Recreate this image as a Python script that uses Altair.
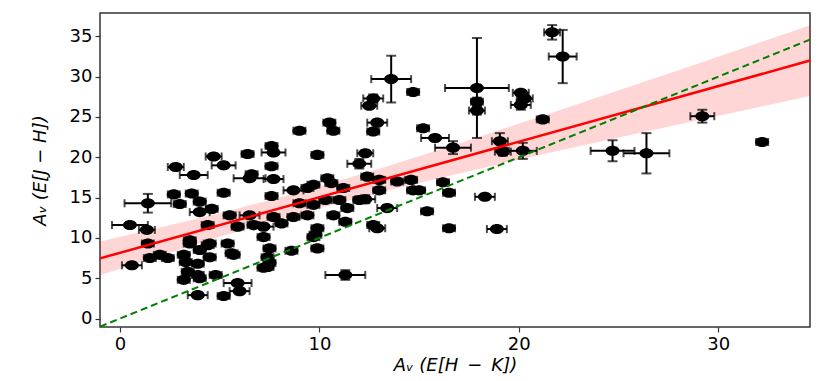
import altair as alt
import pandas as pd

# ---- data ----
px = [21.67, 22.2, 17.9, 17.9, 17.9, 13.6, 14.7, 12.7, 12.5, 12.9, 12.7, 10.5, 10.7, 9.0, 15.2, 15.8, 16.7,
      19.05, 19.2, 20.2, 20.1, 20.3, 20.1, 21.2, 24.7, 26.4, 29.2, 32.2,
      16.2, 16.5, 18.3, 15.4, 16.5, 18.9, 15.0, 14.6, 13.9, 13.0, 12.4, 13.0, 14.7, 13.4, 12.3, 12.9, 12.7,
      11.3, 12.3, 12.0, 11.0, 10.3, 12.0, 11.4, 9.7, 9.4, 10.7, 11.3, 9.9, 9.8, 8.7, 8.1, 7.2, 7.2, 7.5,
      8.6, 9.9, 7.2, 10.4, 10.6, 9.7, 9.4, 11.2, 8.7, 7.6, 9.9,
      7.6, 7.7, 6.4, 4.7, 5.2, 7.6, 2.8, 3.7, 6.6, 6.5, 7.7, 5.2, 3.6, 2.7, 1.4, 3.0, 4.0, 4.0, 4.6, 5.5,
      6.5, 0.5, 1.35, 4.4, 5.9, 6.7, 7.7, 9.0,
      1.4, 0.6, 1.5, 2.0, 2.4, 3.3, 3.5, 4.0, 4.5, 3.9, 3.4, 3.2, 3.9, 4.8, 3.9, 5.2, 5.9, 6.0, 5.4, 5.6,
      7.4, 7.4, 4.4, 4.5, 5.7, 3.2, 9.7, 3.5, 7.5, 4.0]
py = [35.5, 32.5, 28.6, 26.9, 25.8, 29.7, 28.1, 27.3, 26.4, 24.3, 23.2, 24.3, 23.3, 23.3, 23.6, 22.4, 21.2,
      22.0, 20.7, 20.8, 28.0, 27.3, 26.5, 24.7, 20.8, 20.5, 25.1, 21.9,
      16.9, 15.6, 15.1, 13.3, 11.2, 11.1, 15.9, 17.2, 17.0, 17.2, 17.6, 15.9, 15.9, 13.7, 14.8, 11.2, 11.6,
      5.4, 20.5, 19.2, 14.7, 14.7, 14.7, 13.7, 14.1, 12.8, 12.8, 12.0, 11.2, 10.4, 12.6, 11.8, 11.4, 10.1, 8.7,
      8.4, 8.7, 6.3, 17.4, 16.8, 16.6, 16.2, 16.2, 15.9, 15.2, 20.3,
      21.4, 20.6, 20.4, 20.1, 19.0, 18.9, 18.8, 17.8, 17.9, 17.4, 17.3, 15.6, 15.5, 15.4, 14.3, 14.2, 14.5,
      13.2, 13.6, 12.8, 12.8, 11.6, 11.0, 11.6, 11.4, 11.6, 12.6, 14.3,
      9.3, 6.6, 7.5, 7.9, 7.5, 7.0, 9.3, 8.5, 9.3, 6.8, 5.8, 4.8, 5.4, 5.4, 2.9, 2.8, 4.4, 3.4, 9.3, 8.1,
      6.4, 7.6, 9.1, 7.6, 7.9, 7.9, 10.1, 9.7, 6.9, 5.0]
pxerr = [0.4, 0.7, 1.6, 0.3, 0.4, 1.0, 0.3, 0.5, 0.4, 0.5, 0.3, 0.3, 0.3, 0.3, 0.3, 0.7, 0.9,
         0.4, 0.4, 0.7, 0.4, 0.4, 0.5, 0.3, 1.1, 1.15, 0.6, 0.3,
         0.3, 0.3, 0.5, 0.3, 0.3, 0.5, 0.3, 0.3, 0.3, 0.3, 0.3, 0.3, 0.3, 0.5, 0.5, 0.4, 0.3,
         1.0, 0.4, 0.6, 0.3, 0.3, 0.3, 0.3, 0.3, 0.3, 0.3, 0.3, 0.3, 0.3, 0.3, 0.3, 0.5, 0.3, 0.3,
         0.3, 0.3, 0.3, 0.3, 0.3, 0.3, 0.3, 0.3, 0.5, 0.3, 0.3,
         0.3, 0.6, 0.3, 0.4, 0.6, 0.3, 0.4, 0.7, 0.3, 0.8, 0.5, 0.3, 0.3, 0.3, 1.17, 0.3, 0.3, 0.5, 0.3, 0.3,
         0.5, 0.9, 0.4, 0.3, 0.3, 0.3, 0.3, 0.3,
         0.3, 0.5, 0.3, 0.3, 0.3, 0.3, 0.3, 0.3, 0.3, 0.3, 0.3, 0.3, 0.3, 0.3, 0.5, 0.3, 0.7, 0.5, 0.3, 0.3,
         0.3, 0.3, 0.3, 0.3, 0.3, 0.3, 0.3, 0.3, 0.3, 0.3]
pyerr = [0.9, 3.3, 6.2, 0.5, 0.5, 2.9, 0.3, 0.5, 0.3, 0.3, 0.3, 0.3, 0.3, 0.3, 0.3, 0.3, 0.8,
         1.0, 0.5, 1.0, 0.3, 0.3, 0.6, 0.3, 1.3, 2.5, 0.8, 0.3,
         0.3, 0.3, 0.3, 0.3, 0.3, 0.3, 0.3, 0.3, 0.3, 0.3, 0.3, 0.3, 0.3, 0.3, 0.5, 0.3, 0.3,
         0.6, 0.3, 0.6, 0.3, 0.3, 0.3, 0.3, 0.3, 0.3, 0.3, 0.3, 0.3, 0.3, 0.3, 0.3, 0.3, 0.3, 0.3,
         0.3, 0.3, 0.3, 0.3, 0.3, 0.3, 0.3, 0.3, 0.3, 0.3, 0.3,
         0.3, 0.3, 0.3, 0.3, 0.3, 0.3, 0.3, 0.3, 0.3, 0.3, 0.3, 0.3, 0.3, 0.3, 1.16, 0.3, 0.3, 0.3, 0.3, 0.3,
         0.3, 0.3, 0.3, 0.3, 0.3, 0.3, 0.3, 0.3,
         0.3, 0.3, 0.3, 0.3, 0.3, 0.3, 0.3, 0.3, 0.3, 0.3, 0.3, 0.3, 0.3, 0.3, 0.3, 0.3, 0.3, 0.3, 0.3, 0.3,
         0.3, 0.3, 0.3, 0.3, 0.3, 0.3, 0.3, 0.3, 0.3, 0.3]

# fit line end points and confidence band
fit_x = [-1.0, 34.6]
fit_y = [7.46, 32.0]
ident_x = [-1.0, 34.6]
ident_y = [-1.0, 34.6]
band_x = [-1.0, 2.0, 5.0, 9.0, 13.0, 17.0, 22.0, 28.0, 34.6]
band_lo = [5.36, 7.78, 10.13, 13.03, 15.64, 18.00, 20.81, 24.07, 27.60]
band_hi = [9.56, 11.28, 13.07, 15.67, 18.58, 21.72, 25.81, 30.81, 36.38]

x_ticks = [0, 10, 20, 30]
y_ticks = [0, 5, 10, 15, 20, 25, 30, 35]
x_domain = [-1.0, 34.6]
y_domain = [-1.05, 37.9]

pts = pd.DataFrame({"x": px, "y": py, "xerr": pxerr, "yerr": pyerr})
pts["xlo"] = pts["x"] - pts["xerr"]
pts["xhi"] = pts["x"] + pts["xerr"]
pts["ylo"] = pts["y"] - pts["yerr"]
pts["yhi"] = pts["y"] + pts["yerr"]
band = pd.DataFrame({"bx": band_x, "lo": band_lo, "hi": band_hi})
fit = pd.DataFrame({"fx": fit_x, "fy": fit_y})
ident = pd.DataFrame({"ix": ident_x, "iy": ident_y})

XT = "Aᵥ (E[H\u2002−\u2002K])"
YT = "Aᵥ (E[J − H])"
xs = alt.Scale(domain=x_domain, nice=False, zero=False)
ys = alt.Scale(domain=y_domain, nice=False, zero=False)
xax = alt.Axis(values=x_ticks, title=XT, grid=False)
yax = alt.Axis(values=y_ticks, title=YT, grid=False)


def X(f):
    return alt.X(f"{f}:Q", scale=xs, axis=xax, title=XT)


def Y(f):
    return alt.Y(f"{f}:Q", scale=ys, axis=yax, title=YT)


band_layer = alt.Chart(band).mark_area(color="#ff0000", opacity=0.16).encode(
    x=X("bx"), y=Y("lo"), y2="hi")
xbar = alt.Chart(pts).mark_rule(color="black", strokeWidth=2).encode(x=X("xlo"), x2="xhi", y=Y("y"))
ybar = alt.Chart(pts).mark_rule(color="black", strokeWidth=2).encode(x=X("x"), y=Y("ylo"), y2="yhi")
cap_xl = alt.Chart(pts).mark_tick(color="black", orient="vertical", size=8, thickness=2).encode(x=X("xlo"), y=Y("y"))
cap_xh = alt.Chart(pts).mark_tick(color="black", orient="vertical", size=8, thickness=2).encode(x=X("xhi"), y=Y("y"))
cap_yl = alt.Chart(pts).mark_tick(color="black", orient="horizontal", size=10, thickness=2).encode(x=X("x"), y=Y("ylo"))
cap_yh = alt.Chart(pts).mark_tick(color="black", orient="horizontal", size=10, thickness=2).encode(x=X("x"), y=Y("yhi"))
ellipse = "M -1 0 A 1 0.72 0 1 0 1 0 A 1 0.72 0 1 0 -1 0 Z"
dots = alt.Chart(pts).mark_point(shape=ellipse, filled=True, size=196, color="black", opacity=1,
                                 strokeWidth=0).encode(x=X("x"), y=Y("y"))
fit_layer = alt.Chart(fit).mark_line(color="#ff0000", strokeWidth=2.5).encode(x=X("fx"), y=Y("fy"))
ident_layer = alt.Chart(ident).mark_line(color="#008000", strokeWidth=2, strokeDash=[7, 4]).encode(
    x=X("ix"), y=Y("iy"))

chart = alt.layer(band_layer, xbar, ybar, cap_xl, cap_xh, cap_yl, cap_yh, dots, fit_layer, ident_layer).properties(
    width=710, height=314,
    autosize=alt.AutoSizeParams(type="none"),
    padding={"left": 92, "top": 5, "right": 13, "bottom": 54},
    background="white",
).configure_view(stroke="#333333", strokeWidth=1.5).configure_axis(
    domain=False,
    ticks=True, tickSize=5, tickColor="#333333", tickWidth=1.2,
    labelFont="DejaVu Sans", labelFontSize=18, labelColor="black", labelPadding=3,
    titleFont="DejaVu Sans", titleFontSize=18, titleFontStyle="italic", titleFontWeight="normal",
    titleColor="black",
).configure_axisX(titlePadding=3).configure_axisY(titlePadding=20)

chart.save("out.html", embed_options={"renderer": "svg", "actions": False})
